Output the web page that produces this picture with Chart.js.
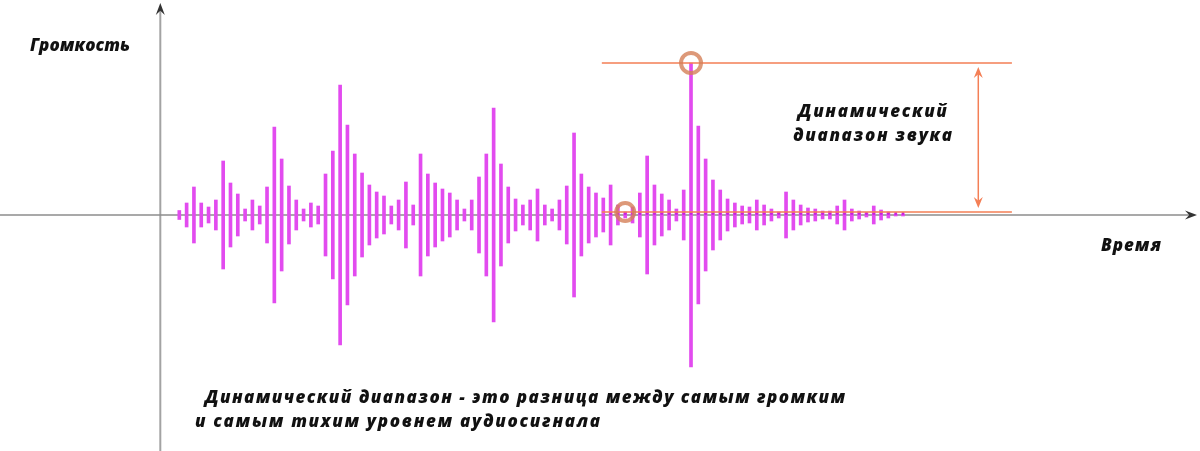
<!DOCTYPE html>
<html lang="ru">
<head>
<meta charset="utf-8">
<title>Динамический диапазон звука</title>
<script src="https://cdn.jsdelivr.net/npm/chart.js@4.4.1/dist/chart.umd.min.js"></script>
<style>
  html, body { margin: 0; padding: 0; background: #fff; }
  #wrap { width: 1200px; height: 451px; }
</style>
</head>
<body>
<div id="wrap"><canvas id="chart" width="1200" height="451"></canvas></div>
<script>
/* ── Данные: полуразмах каждого отсчёта (симметрично вокруг нуля) ── */
const samples = [
  4.5, 12, 28, 12, 8, 15, 54, 32, 21, 6,
  15, 9, 28, 88, 56, 29, 15, 6, 12, 9,
  41, 64, 130, 90, 61, 42, 30, 23, 19, 9,
  15, 33, 10, 61, 41, 32, 26, 22, 15, 6,
  15, 38, 61, 107, 51, 28, 16, 10, 15, 26,
  10, 6, 15, 29, 82, 41, 28, 22, 17, 30,
  10, 3, 8, 22, 59, 30, 21, 15, 6, 25,
  152, 89, 56, 35, 25, 16, 12, 9, 8, 15,
  10, 6, 3, 23, 15, 10, 7, 6, 4, 4,
  9, 15, 6, 4, 2, 9, 5, 3, 1, 1
];
const quietIndex = 61;      // самый тихий отмеченный отсчёт
const dotsFrom = 59;        // с этого отсчёта у столбцов есть точка на оси

const yAxisTitle = 'Громкость';
const xAxisTitle = 'Время';
const rangeLabel = ['Динамический', 'диапазон звука'];
const caption = [
  'Динамический диапазон - это разница между самым громким',
  'и самым тихим уровнем аудиосигнала'
];

const peakValue = Math.max(...samples);
const peakIndex = samples.indexOf(peakValue);
const quietValue = samples[quietIndex];

/* ── Оформление ─────────────────────────────────────── */
const BAR = '#e24bef';
const ORANGE = '#f47f56';
const RING = 'rgba(212,128,88,0.8)';
const FONT = '"Open Sans", "Noto Sans", sans-serif';

function arrowHead(ctx, x, y, ang, len, half, color) {
  ctx.save();
  ctx.translate(x, y);
  ctx.rotate(ang);
  ctx.beginPath();
  ctx.moveTo(0, 0);
  ctx.lineTo(-len, -half);
  ctx.lineTo(-len * 0.65, 0);
  ctx.lineTo(-len, half);
  ctx.closePath();
  ctx.fillStyle = color;
  ctx.fill();
  ctx.restore();
}

// текст с подгонкой межбуквенного интервала под ширину из оригинала
function text(ctx, str, x0, x1, y, size) {
  ctx.save();
  ctx.font = `italic 800 ${size}px ${FONT}`;
  ctx.letterSpacing = '0px';
  const w = ctx.measureText(str).width;
  const sp = Math.max(0, (x1 - x0 - w) / (str.length - 1));
  ctx.letterSpacing = sp.toFixed(2) + 'px';
  ctx.fillStyle = '#111';
  ctx.textAlign = 'left';
  ctx.textBaseline = 'middle';
  ctx.fillText(str, x0, y);
  ctx.restore();
}

const decor = {
  id: 'decor',
  beforeDatasetsDraw(chart) {
    const { ctx, scales: { x, y } } = chart;
    const y0 = y.getPixelForValue(0);
    const ax = x.getPixelForValue(-2.6);
    ctx.save();
    // вертикальная ось
    ctx.strokeStyle = '#a3a3a3';
    ctx.lineWidth = 2;
    ctx.beginPath();
    ctx.moveTo(ax, chart.height);
    ctx.lineTo(ax, 10);
    ctx.stroke();
    arrowHead(ctx, ax, 3, -Math.PI / 2, 12, 4.5, '#333');
    // горизонтальная ось
    ctx.strokeStyle = '#8c8c8c';
    ctx.lineWidth = 1.5;
    ctx.beginPath();
    ctx.moveTo(0, y0);
    ctx.lineTo(1190, y0);
    ctx.stroke();
    arrowHead(ctx, 1197, y0, 0, 12, 4.5, '#333');
    ctx.restore();
  },
  afterDatasetsDraw(chart) {
    const { ctx, scales: { x, y } } = chart;
    const xs = x.getPixelForValue(57.8), xe = x.getPixelForValue(113.9);
    const yTop = y.getPixelForValue(peakValue);
    const yLow = y.getPixelForValue(quietValue);
    ctx.save();
    ctx.strokeStyle = ORANGE;
    ctx.lineWidth = 1.6;
    ctx.beginPath();
    ctx.moveTo(xs, yTop); ctx.lineTo(xe, yTop);
    ctx.moveTo(xs, yLow); ctx.lineTo(xe, yLow);
    ctx.stroke();
    // двойная стрелка
    const xa = x.getPixelForValue(109.3);
    ctx.lineWidth = 1.5;
    ctx.beginPath();
    ctx.moveTo(xa, yTop + 10); ctx.lineTo(xa, yLow - 10);
    ctx.stroke();
    arrowHead(ctx, xa, yTop + 4, -Math.PI / 2, 11, 4.5, ORANGE);
    arrowHead(ctx, xa, yLow - 4, Math.PI / 2, 11, 4.5, ORANGE);
    // кольца на самом громком и самом тихом
    ctx.strokeStyle = RING;
    ctx.lineWidth = 4;
    ctx.beginPath();
    ctx.arc(x.getPixelForValue(peakIndex), yTop, 10, 0, Math.PI * 2);
    ctx.stroke();
    ctx.beginPath();
    ctx.arc(x.getPixelForValue(quietIndex), yLow, 9, 0, Math.PI * 2);
    ctx.stroke();
    ctx.restore();

    text(ctx, yAxisTitle, 30, 130, 46, 17);
    text(ctx, xAxisTitle, 1101, 1161, 246, 17);
    text(ctx, rangeLabel[0], 798, 947, 112, 17);
    text(ctx, rangeLabel[1], 793, 952, 136, 17);
    text(ctx, caption[0], 205, 845, 398, 17);
    text(ctx, caption[1], 195, 600, 422, 17);
  }
};

const bars = samples.map((v, i) => ({ x: i, y: [-v, v] }));
const dots = samples.map((v, i) => ({ x: i, y: 1.5 })).filter(p => p.x >= dotsFrom);

new Chart(document.getElementById('chart'), {
  type: 'bar',
  data: {
    datasets: [
      { data: bars, backgroundColor: BAR, barThickness: 3, order: 2 },
      { type: 'line', data: dots, showLine: false, pointStyle: 'rect',
        pointRadius: 1.8, pointBackgroundColor: '#c81ee0', pointBorderWidth: 0, order: 1 }
    ]
  },
  options: {
    responsive: false,
    animation: false,
    layout: { padding: 0, autoPadding: false },
    plugins: { legend: { display: false }, tooltip: { enabled: false } },
    scales: {
      x: { type: 'linear', display: false, offset: false, min: -24.53, max: 139.63 },
      y: { display: false, offset: false, min: -236, max: 215 }
    }
  },
  plugins: [decor]
});
</script>
</body>
</html>
